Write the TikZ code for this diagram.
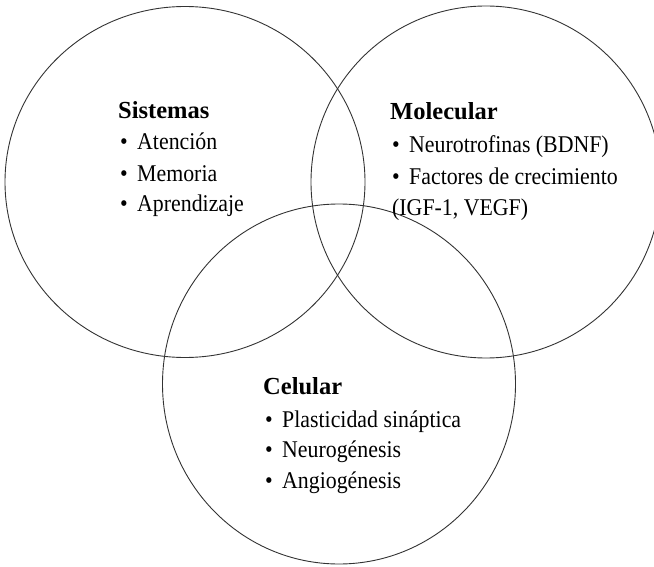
\documentclass[tikz,border=0pt]{standalone}
\usepackage{fontspec}
\usepackage{graphicx}
\setmainfont{Liberation Serif}
\usetikzlibrary{shapes.geometric}
\tikzset{
  ring/.style={draw=black!80, line width=0.9pt, ellipse, inner sep=0pt},
  title/.style={anchor=base west, inner sep=0pt, font=\fontsize{24.5}{28}\selectfont\bfseries},
  item/.style={anchor=base west, inner sep=0pt, font=\fontsize{24}{28}\selectfont},
}
\newcommand{\bul}{\makebox[18.7pt][l]{•}}
\newcommand{\sq}[1]{\scalebox{0.91}[1]{#1}}
\begin{document}
\begin{tikzpicture}[x=1pt,y=-1pt]
\useasboundingbox (0,0) rectangle (654,567);
\begin{scope}
\clip (0,0) rectangle (654,567);
\node[ring, minimum width=360pt, minimum height=351pt] (sis) at (185,182) {};
\node[ring, minimum width=350pt, minimum height=352pt] (mol) at (486,182) {};
\node[ring, minimum width=353pt, minimum height=360pt] (cel) at (339,384) {};
\end{scope}
% Sistemas
\node[title] (t1) at (118,119) {Sistemas};
\node[item] (s1) at (120,150) {\sq{\bul Atención}};
\node[item] (s2) at (120,182) {\sq{\bul Memoria}};
\node[item] (s3) at (120,212) {\sq{\bul Aprendizaje}};
% Molecular
\node[title] (t2) at (390,120) {Molecular};
\node[item] (m1) at (392,153) {\sq{\bul Neurotrofinas (BDNF)}};
\node[item] (m2) at (392,185) {\sq{\bul Factores de crecimiento}};
\node[item] (m3) at (392,215) {\sq{(IGF-1, VEGF)}};
% Celular
\node[title] (t3) at (263,394) {Celular};
\node[item] (c1) at (265,427) {\sq{\bul Plasticidad sináptica}};
\node[item] (c2) at (265,457) {\sq{\bul Neurogénesis}};
\node[item] (c3) at (265,488) {\sq{\bul Angiogénesis}};
\end{tikzpicture}
\end{document}
